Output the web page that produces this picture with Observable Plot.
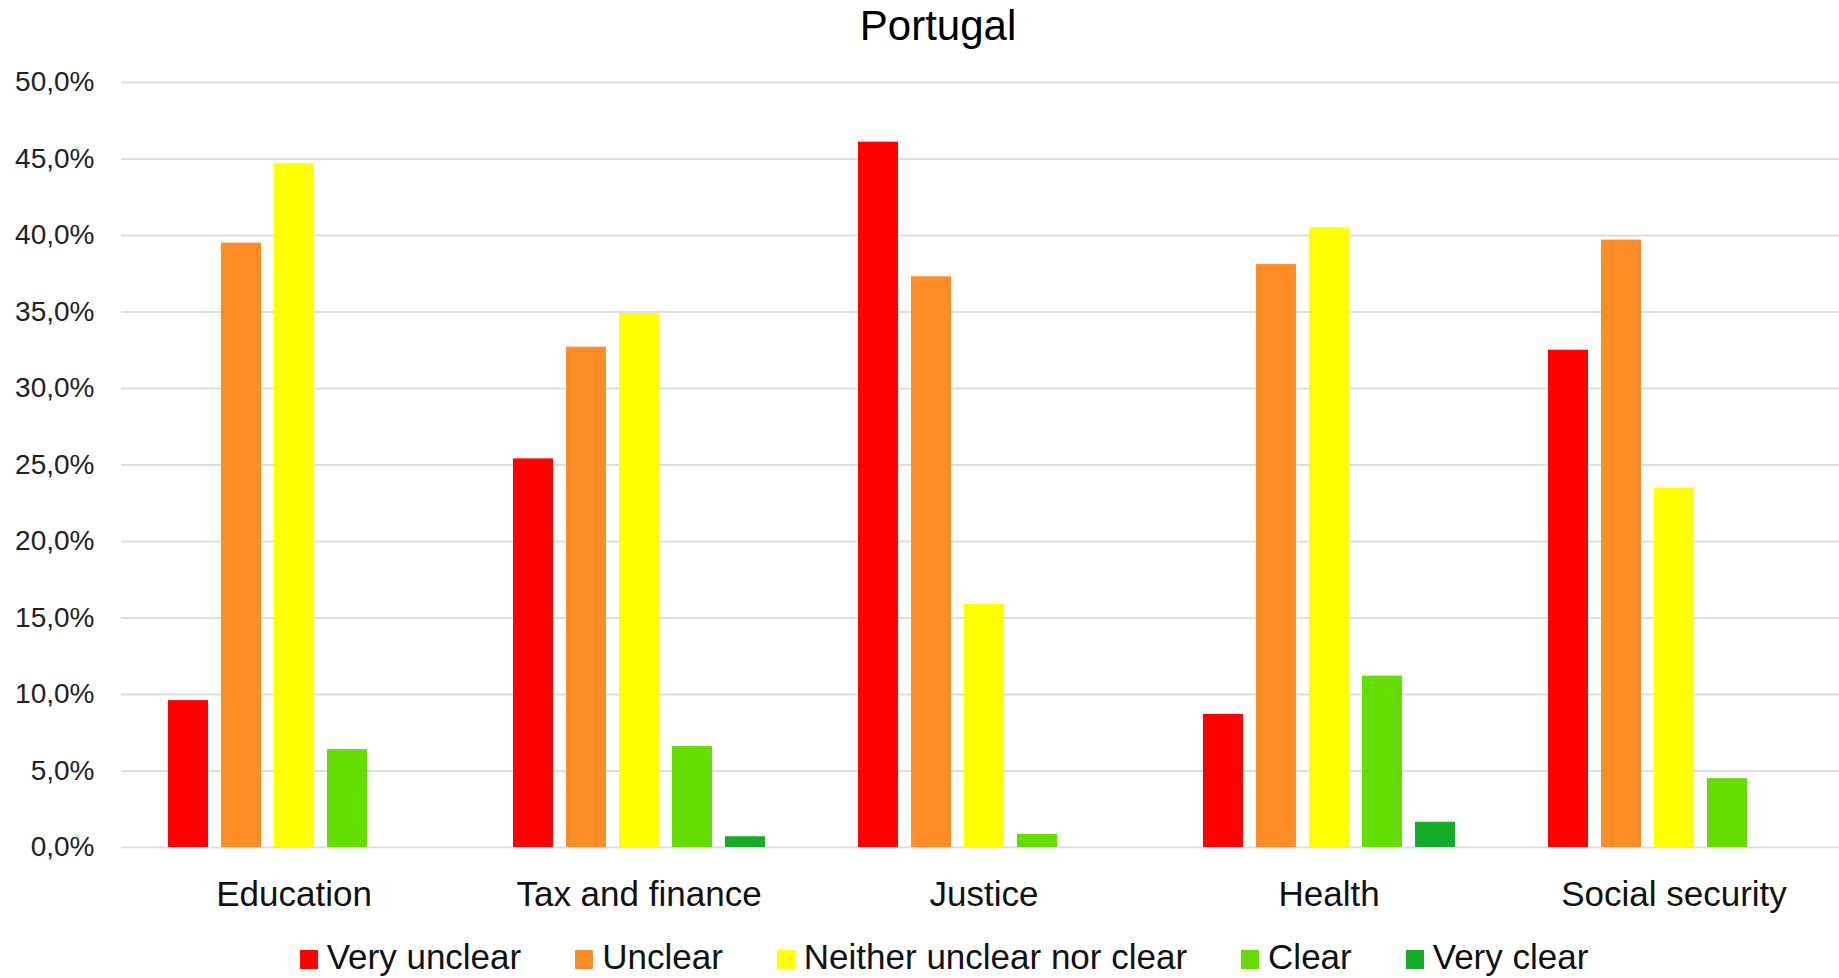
<!DOCTYPE html>
<html>
<head>
<meta charset="utf-8">
<script src="https://cdn.jsdelivr.net/npm/d3@7"></script>
<script src="https://cdn.jsdelivr.net/npm/@observablehq/plot@0.6"></script>
<style>
  html, body { margin: 0; padding: 0; background: #fff; overflow: hidden; }
  body { font-family: "Liberation Sans", Arial, Helvetica, sans-serif; width: 1839px; }
  #title { height: 52px; line-height: 52px; text-align: center; font-size: 42px; color: #000; margin-left: 37px; }
  #legend { height: 50px; display: flex; justify-content: center; align-items: baseline; font-size: 35px; color: #111; margin-left: 49px; line-height: 50px; }
  #legend .item { display: inline-flex; align-items: baseline; margin: 0 27px; white-space: nowrap; }
  #legend .sw { display: inline-block; width: 18px; height: 19px; margin-right: 9px; }
  g[aria-label^="fx-axis"] text { font-size: 35px; fill: #111; }
  g[aria-label^="y-axis"] text { font-size: 28px; fill: #222; }
</style>
</head>
<body>
<div id="title">Portugal</div>
<div id="chart"></div>
<div id="legend"></div>
<script>
const categories = ["Education", "Tax and finance", "Justice", "Health", "Social security"];
const seriesNames = ["Very unclear", "Unclear", "Neither unclear nor clear", "Clear", "Very clear"];
const seriesColors = ["#ff0000", "#ff8c26", "#ffff00", "#66dd00", "#14ad2a"];
const veryUnclear = [9.6, 25.4, 46.1, 8.7, 32.5];
const unclear = [39.5, 32.7, 37.3, 38.1, 39.7];
const neither = [44.7, 34.9, 15.9, 40.5, 23.5];
const clear = [6.4, 6.6, 0.85, 11.2, 4.5];
const veryClear = [0, 0.7, 0, 1.65, 0];
const yTicks = [0, 5, 10, 15, 20, 25, 30, 35, 40, 45, 50];

const seriesValues = [veryUnclear, unclear, neither, clear, veryClear];
const table = [];
categories.forEach((c, i) => {
  seriesNames.forEach((s, j) => {
    table.push({category: c, series: s, value: seriesValues[j][i]});
  });
});

const fmt = v => v.toFixed(1).replace(".", ",") + "%";

const chart = Plot.plot({
  width: 1839,
  height: 880,
  marginLeft: 121,
  marginRight: 0,
  marginTop: 30,
  marginBottom: 85,
  style: {fontFamily: '"Liberation Sans", Arial, Helvetica, sans-serif', fontSize: "28px", color: "#222", background: "#fff"},
  facet: {data: table, x: "category"},
  fx: {domain: categories, padding: 0, range: [121, 1846], axis: "bottom", label: null, tickSize: 0, tickPadding: 34},
  x: {domain: seriesNames, axis: null, paddingInner: 0.248, paddingOuter: 0.867},
  y: {domain: [0, 50], ticks: yTicks, tickFormat: fmt, tickSize: 0, tickPadding: 27, label: null},
  color: {domain: seriesNames, range: seriesColors},
  marks: [
    Plot.ruleY(yTicks, {stroke: "#dedede", strokeWidth: 2}),
    Plot.barY(table, {x: "series", y: "value", fill: "series"})
  ]
});
document.getElementById("chart").appendChild(chart);

const legend = document.getElementById("legend");
seriesNames.forEach((s, j) => {
  const item = document.createElement("span");
  item.className = "item";
  const sw = document.createElement("span");
  sw.className = "sw";
  sw.style.background = seriesColors[j];
  item.appendChild(sw);
  item.appendChild(document.createTextNode(s));
  legend.appendChild(item);
});
</script>
</body>
</html>
